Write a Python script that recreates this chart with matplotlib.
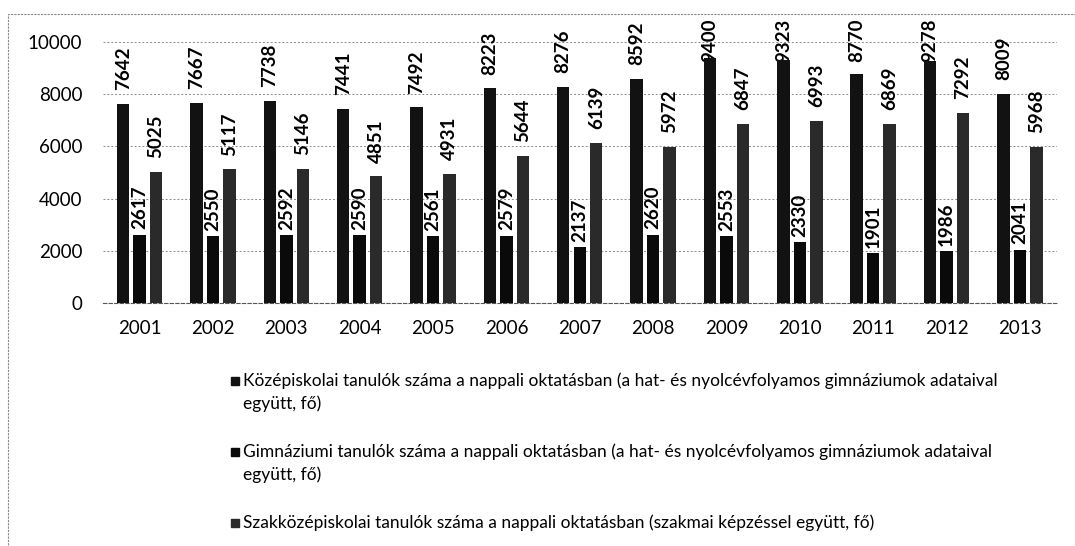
import numpy as np
import matplotlib.pyplot as plt
from matplotlib.patches import Rectangle

years = ["2001", "2002", "2003", "2004", "2005", "2006", "2007",
         "2008", "2009", "2010", "2011", "2012", "2013"]
kozep = [7642, 7667, 7738, 7441, 7492, 8223, 8276, 8592, 9400, 9323, 8770, 9278, 8009]
gimn = [2617, 2550, 2592, 2590, 2561, 2579, 2137, 2620, 2553, 2330, 1901, 1986, 2041]
szakk = [5025, 5117, 5146, 4851, 4931, 5644, 6139, 5972, 6847, 6993, 6869, 7292, 5968]

legend_labels = [
    "Középiskolai tanulók száma a nappali oktatásban (a hat- és nyolcévfolyamos gimnáziumok adataival\negyütt, fő)",
    "Gimnáziumi tanulók száma a nappali oktatásban (a hat- és nyolcévfolyamos gimnáziumok adataival\negyütt, fő)",
    "Szakközépiskolai tanulók száma a nappali oktatásban (szakmai képzéssel együtt, fő)",
]
colors = ["#121212", "#0a0a0a", "#2a2a2a"]
label_gap = [10, 4, 10]  # points between bar top and its label

plt.rcParams['font.family'] = ['Lato', 'DejaVu Sans']

DPI = 100
fig = plt.figure(figsize=(10.75, 5.46), dpi=DPI)
ax = fig.add_axes([0.0958, 0.445, 0.887, 0.478])

x = np.arange(len(years))
w = 0.17
step = 0.225
series = [kozep, gimn, szakk]

labels = []
for i, (vals, c) in enumerate(zip(series, colors)):
    xs = x + (i - 1) * step
    ax.bar(xs, vals, width=w, color=c, zorder=3)
    for xi, v in zip(xs, vals):
        t = ax.annotate(str(v), (xi, v), xytext=(0, label_gap[i]),
                        textcoords='offset points', rotation=90,
                        ha='center', va='bottom', fontsize=13.5,
                        fontweight='bold', color='black', zorder=2.5,
                        annotation_clip=False)
        labels.append((t, label_gap[i]))

ax.set_xlim(-0.5, len(years) - 0.5)
ax.set_ylim(0, 10000)
ax.set_yticks(range(0, 10001, 2000))
ax.set_xticks(x)
ax.set_xticklabels(years)
ax.tick_params(axis='both', length=0, labelsize=13.5)
ax.tick_params(axis='y', pad=15)
ax.tick_params(axis='x', pad=12)

for s in ['top', 'right', 'left']:
    ax.spines[s].set_visible(False)
ax.spines['bottom'].set_color('#555555')
ax.spines['bottom'].set_linestyle((0, (3, 2)))
ax.spines['bottom'].set_linewidth(0.8)
ax.grid(axis='y', color='#8a8a8a', linestyle=(0, (2, 2)), linewidth=0.7, zorder=0)

# labels that would run past the chart top get pushed down (like Excel does)
fig.canvas.draw()
top_px = fig.bbox.height - 19
for t, gap in labels:
    bb = t.get_window_extent()
    if bb.y1 > top_px:
        t.xyann = (0, gap - (bb.y1 - top_px) * 72 / DPI)

# legend drawn by hand so the marker sits on the first text line
leg_x = 243 / 1075
rows = [381, 452, 523]
for lab, c, ry in zip(legend_labels, colors, rows):
    yf = 1 - ry / 546
    fig.patches.append(Rectangle((leg_x - 12 / 1075, yf - 4 / 546), 8 / 1075, 8 / 546,
                                 transform=fig.transFigure, color=c))
    fig.text(leg_x, yf + 9 / 546, lab, ha='left', va='top', fontsize=12.55,
             linespacing=1.5)

fig.patches.append(Rectangle((8 / 1075, -0.05), 1.2, 1 - 14 / 546 + 0.05,
                             transform=fig.transFigure, fill=False,
                             edgecolor='#888888', linestyle=(0, (2, 1)), linewidth=0.8))

fig.savefig("out.png", dpi=DPI)
